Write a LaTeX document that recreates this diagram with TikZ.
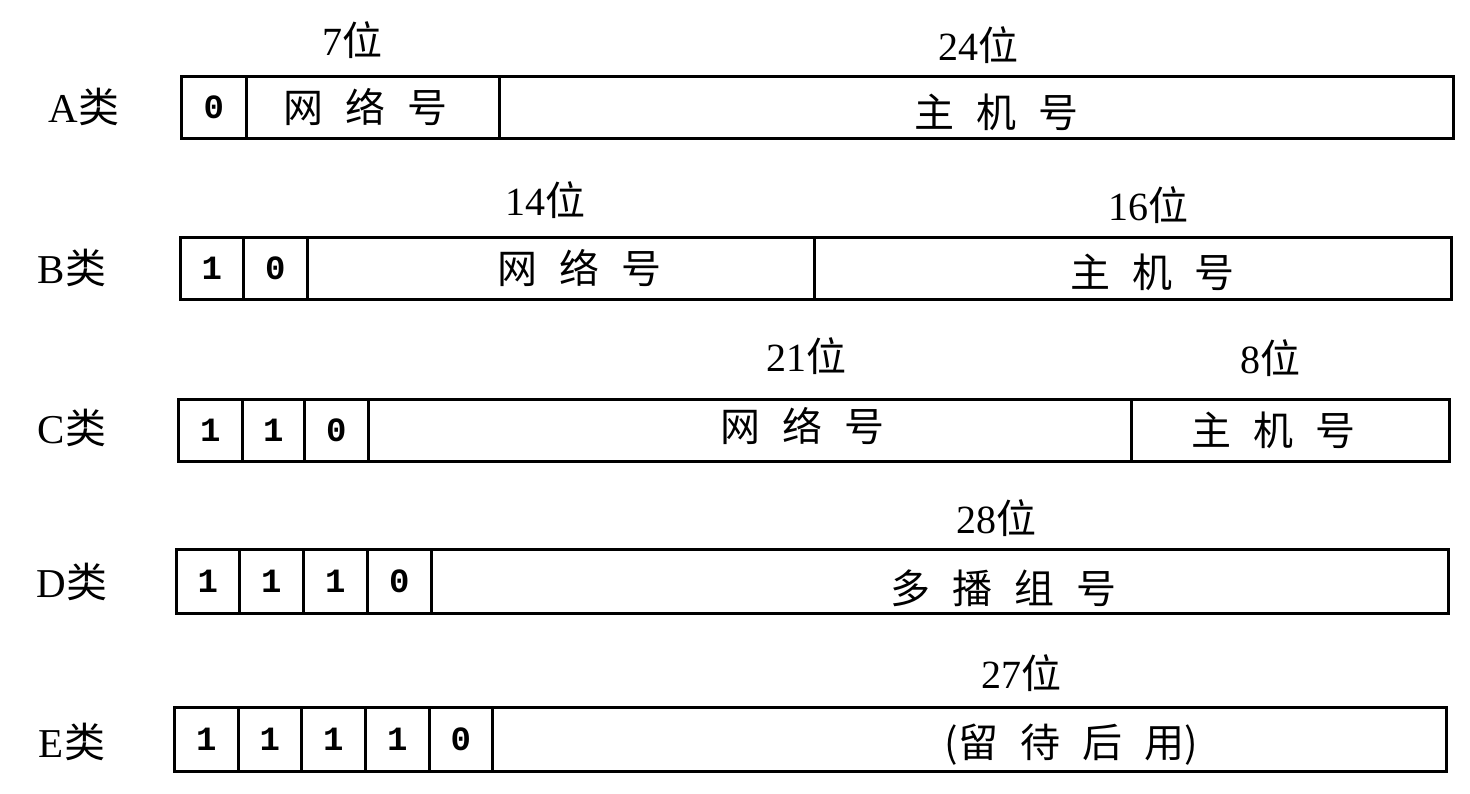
\documentclass[tikz,border=0pt]{standalone}
\usepackage{fontspec}
\setmainfont{Liberation Serif}
\newfontfamily\cjk{Noto Sans CJK SC}
\newfontfamily\bitf{Liberation Mono}
\newcommand\cgap{\hspace{22pt}}
\begin{document}
\begin{tikzpicture}[x=1pt,y=-1pt,
  box/.style={draw, line width=2.6pt, inner sep=0pt, anchor=north west},
  bitcell/.style={box, minimum width=#1, font=\bitf\bfseries\fontsize{34}{34}\selectfont},
  cn/.style={font=\cjk\fontsize{40}{40}\selectfont, inner sep=0pt},
  len/.style={font=\fontsize{40}{40}\selectfont, inner sep=0pt},
  cls/.style={font=\fontsize{41}{41}\selectfont, inner sep=0pt}]
\useasboundingbox (0,0) rectangle (1470,793);
% ---------- A ----------
\begin{scope}[every node/.append style={minimum height=62pt}]
\node[bitcell=65pt] (a1) at (180,75) {0};
\node[box, minimum width=253pt] (an) at (245,75) {};
\node[box, minimum width=954pt] (ah) at (498,75) {};
\end{scope}
\node[cls] (al) at (84,107) {A{\cjk 类}};
\node[cn] (ant) at (365,107) {网\cgap 络\cgap 号};
\node[cn] (aht) at (996,112) {主\cgap 机\cgap 号};
\node[len] (a7) at (352,40) {7{\cjk 位}};
\node[len] (a24) at (978,45) {24{\cjk 位}};
% ---------- B ----------
\begin{scope}[every node/.append style={minimum height=62pt}]
\node[bitcell=63pt] (b1) at (179,236) {1};
\node[bitcell=64pt] (b2) at (242,236) {0};
\node[box, minimum width=507pt] (bn) at (306,236) {};
\node[box, minimum width=637pt] (bh) at (813,236) {};
\end{scope}
\node[cls] (bl) at (72,268) {B{\cjk 类}};
\node[cn] (bnt) at (579,268) {网\cgap 络\cgap 号};
\node[cn] (bht) at (1152,272) {主\cgap 机\cgap 号};
\node[len] (b14) at (545,200) {14{\cjk 位}};
\node[len] (b16) at (1148,205) {16{\cjk 位}};
% ---------- C ----------
\begin{scope}[every node/.append style={minimum height=62pt}]
\node[bitcell=64pt] (c1) at (177,398) {1};
\node[bitcell=62pt] (c2) at (241,398) {1};
\node[bitcell=64pt] (c3) at (303,398) {0};
\node[box, minimum width=763pt] (cn) at (367,398) {};
\node[box, minimum width=318pt] (ch) at (1130,398) {};
\end{scope}
\node[cls] (cl) at (72,428) {C{\cjk 类}};
\node[cn] (cnt) at (802,426) {网\cgap 络\cgap 号};
\node[cn] (cht) at (1273,430) {主\cgap 机\cgap 号};
\node[len] (c21) at (806,356) {21{\cjk 位}};
\node[len] (c8) at (1270,358) {8{\cjk 位}};
% ---------- D ----------
\begin{scope}[every node/.append style={minimum height=64pt}]
\node[bitcell=63pt] (d1) at (175,548) {1};
\node[bitcell=64pt] (d2) at (238,548) {1};
\node[bitcell=64pt] (d3) at (302,548) {1};
\node[bitcell=64pt] (d4) at (366,548) {0};
\node[box, minimum width=1017pt] (dr) at (430,548) {};
\end{scope}
\node[cls] (dl) at (72,582) {D{\cjk 类}};
\node[cn] (drt) at (1003,588) {多\cgap 播\cgap 组\cgap 号};
\node[len] (d28) at (996,518) {28{\cjk 位}};
% ---------- E ----------
\begin{scope}[every node/.append style={minimum height=64pt}]
\node[bitcell=64pt] (e1) at (173,706) {1};
\node[bitcell=63pt] (e2) at (237,706) {1};
\node[bitcell=64pt] (e3) at (300,706) {1};
\node[bitcell=64pt] (e4) at (364,706) {1};
\node[bitcell=63pt] (e5) at (428,706) {0};
\node[box, minimum width=954pt] (er) at (491,706) {};
\end{scope}
\node[cls] (el) at (72,742) {E{\cjk 类}};
\node[cn] (ert) at (1071,745) {(留\cgap 待\cgap 后\cgap 用)};
\node[len] (e27) at (1021,673) {27{\cjk 位}};
\end{tikzpicture}
\end{document}
